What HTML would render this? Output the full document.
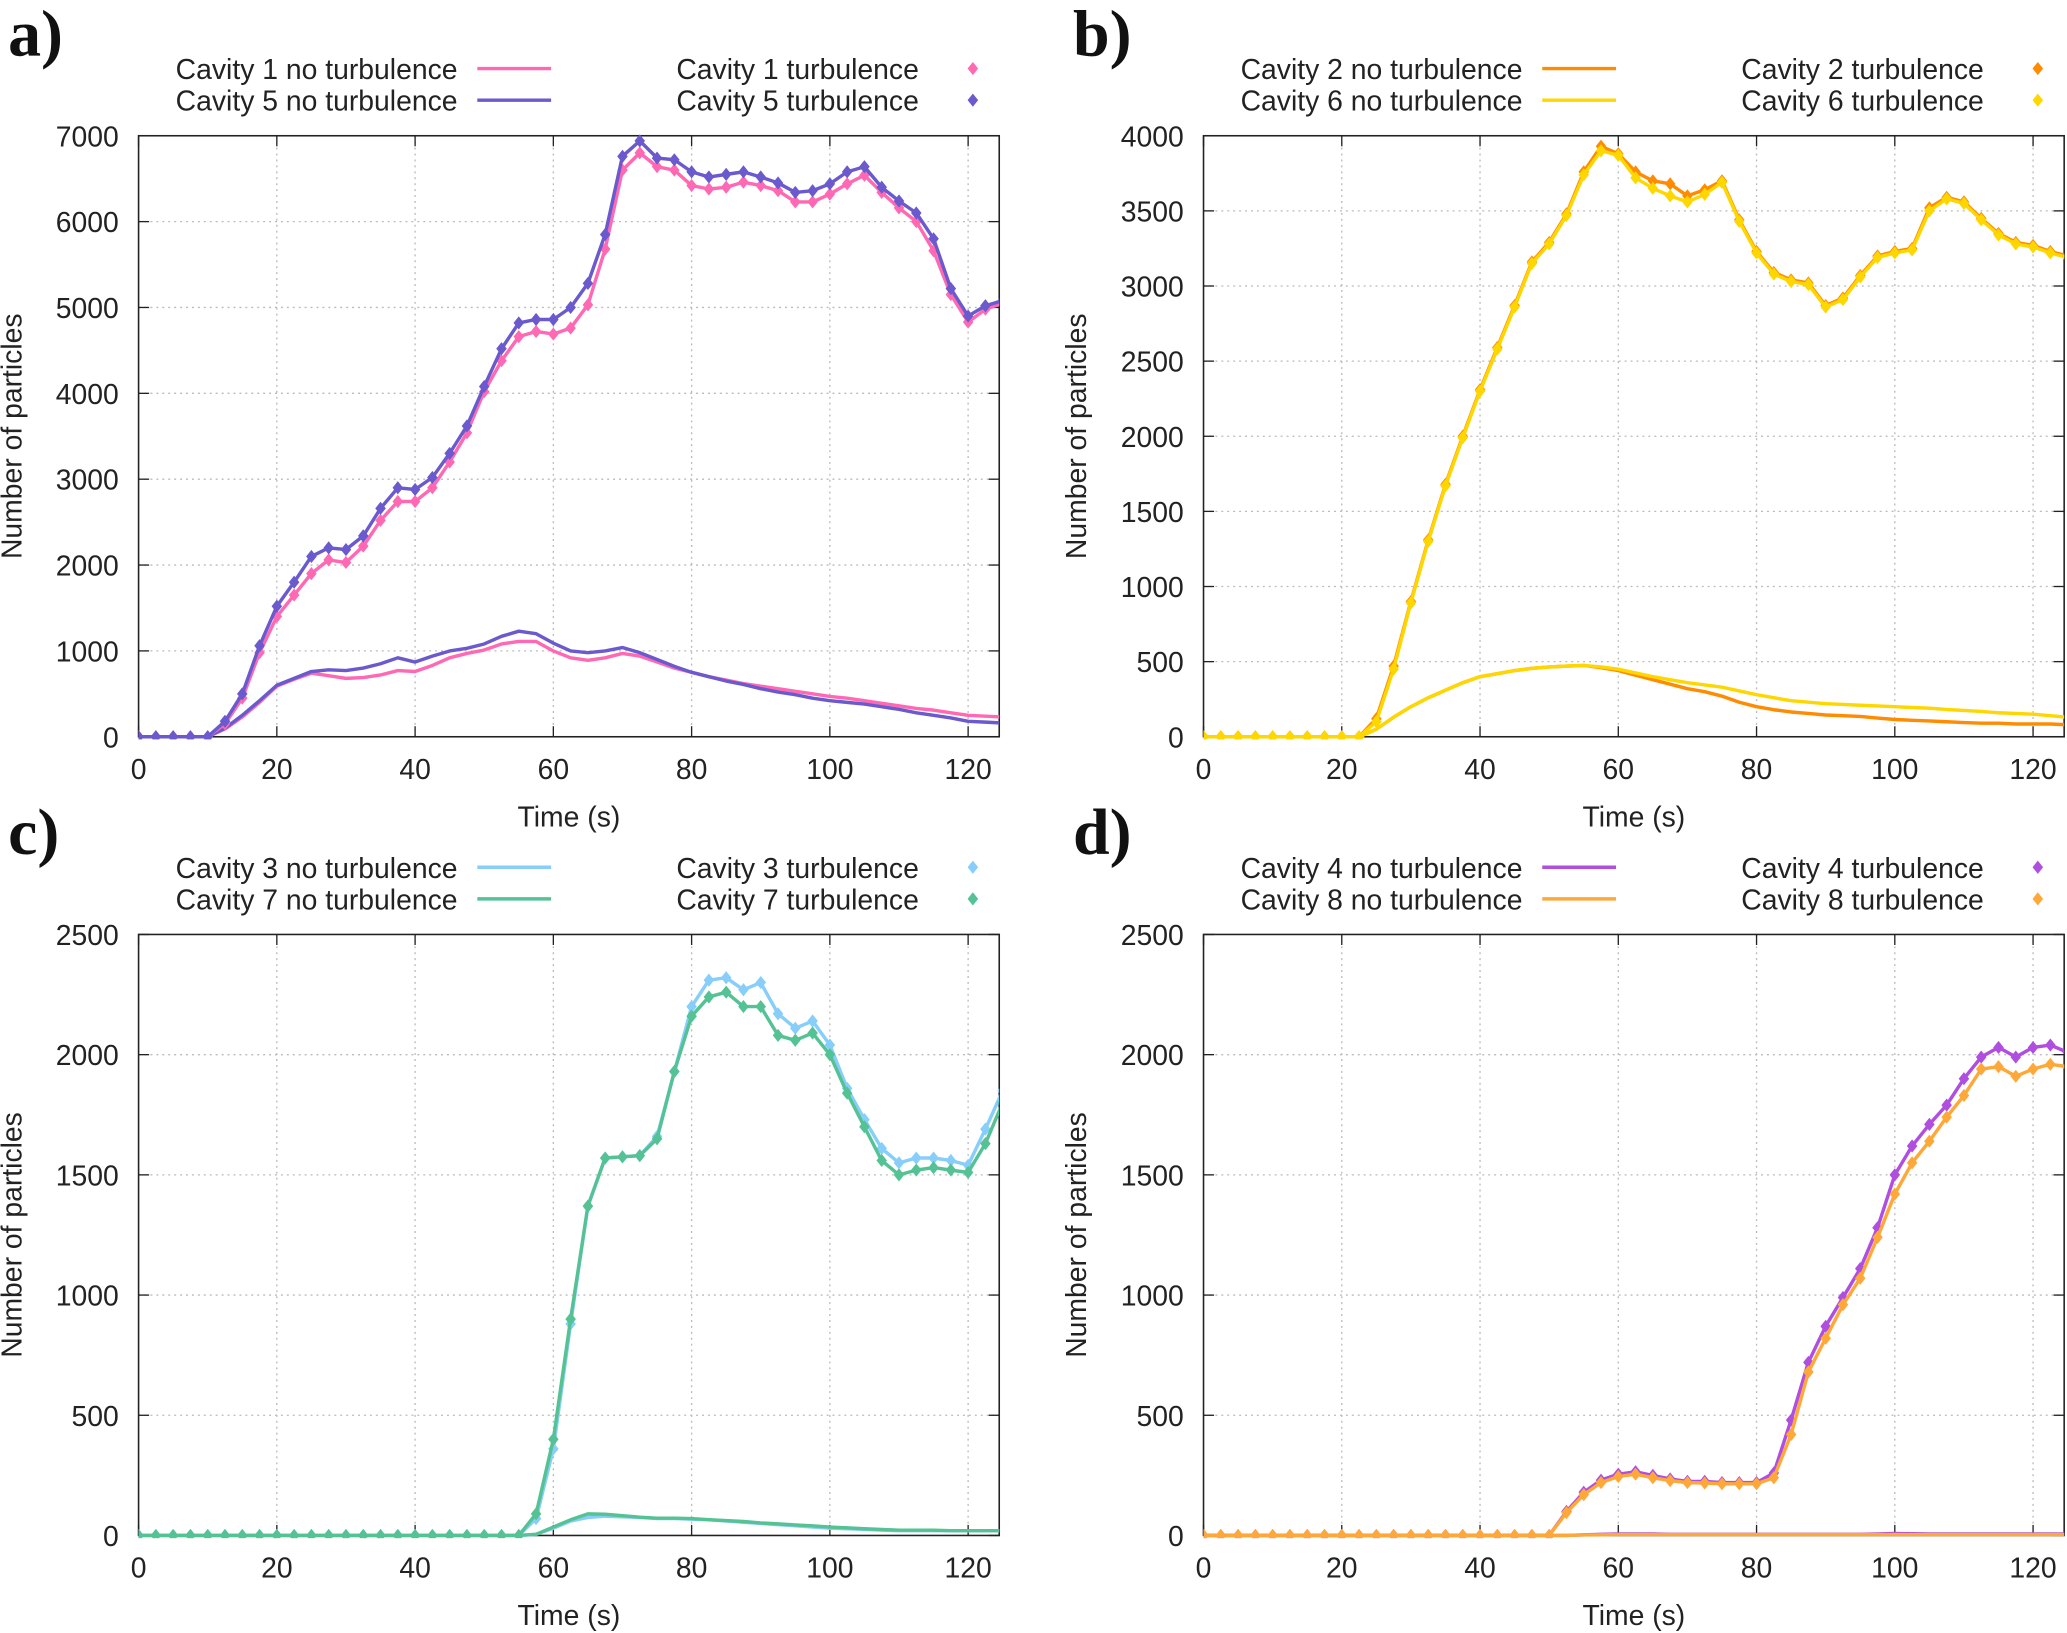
<!DOCTYPE html>
<html><head><meta charset="utf-8"><style>
html,body{margin:0;padding:0;background:#fff}
svg{display:block}
text{font-family:"Liberation Sans",sans-serif;fill:#222}
text.plab{font-family:"Liberation Serif",serif;font-weight:bold;fill:#111}
</style></head><body>
<svg id="fig" width="2067" height="1633" viewBox="0 0 1568 1239" xmlns="http://www.w3.org/2000/svg"></svg>
<script>
const times=[];for(let i=0;i<=50;i++)times.push(i*2.5);
// Panel a
const a_c1_turb=[0,0,0,0,0,150,450,980,1400,1650,1900,2060,2030,2220,2520,2740,2740,2900,3200,3540,4020,4380,4660,4720,4690,4760,5030,5680,6600,6800,6640,6600,6420,6380,6400,6460,6420,6360,6230,6230,6320,6440,6540,6340,6160,6000,5660,5150,4830,4980,5050];
const a_c5_turb=[0,0,0,0,0,180,500,1060,1520,1800,2100,2200,2180,2340,2660,2900,2880,3020,3300,3620,4080,4520,4820,4860,4860,5000,5280,5850,6760,6940,6740,6720,6580,6520,6550,6580,6520,6450,6340,6360,6440,6580,6640,6400,6240,6100,5800,5220,4900,5020,5080];
const a_c1_none=[0,0,0,0,0,90,230,400,590,670,740,710,680,690,720,770,760,830,920,970,1010,1080,1110,1110,1000,920,890,920,970,940,870,800,750,700,660,620,590,560,530,500,470,450,420,390,360,330,310,280,250,240,230];
const a_c5_none=[0,0,0,0,0,100,250,420,600,680,760,780,770,800,850,920,870,940,1000,1030,1080,1170,1230,1200,1090,1000,980,1000,1040,980,900,820,750,700,650,610,560,520,490,450,420,400,380,350,320,280,250,220,180,170,160];
// Panel b
const b_c2_turb=[0,0,0,0,0,0,0,0,0,0,120,470,900,1310,1680,2000,2310,2590,2870,3160,3290,3480,3760,3930,3880,3760,3700,3680,3600,3640,3700,3440,3230,3090,3040,3020,2870,2920,3070,3200,3230,3250,3520,3590,3560,3450,3350,3290,3270,3230,3200];
const b_c6_turb=[0,0,0,0,0,0,0,0,0,0,100,450,890,1300,1670,1990,2300,2580,2860,3150,3280,3470,3740,3900,3870,3720,3650,3600,3560,3610,3690,3430,3220,3080,3030,3010,2860,2910,3060,3190,3220,3240,3500,3580,3550,3440,3340,3280,3260,3220,3190];
const b_c2_none=[0,0,0,0,0,0,0,0,0,0,50,130,200,260,310,360,400,420,440,455,465,470,475,460,440,410,380,350,320,300,270,230,200,180,165,155,145,140,135,125,115,110,105,100,95,90,90,85,85,85,80];
const b_c6_none=[0,0,0,0,0,0,0,0,0,0,50,130,200,260,310,360,400,420,440,455,465,470,475,465,450,425,400,380,360,345,330,305,280,260,240,230,220,215,210,205,200,195,190,182,175,168,160,155,150,140,130];
// Panel c
const c_c3_turb=[0,0,0,0,0,0,0,0,0,0,0,0,0,0,0,0,0,0,0,0,0,0,0,70,360,880,1370,1570,1575,1580,1660,1930,2200,2310,2320,2270,2300,2170,2110,2140,2040,1860,1730,1610,1550,1570,1570,1560,1540,1690,1850];
const c_c7_turb=[0,0,0,0,0,0,0,0,0,0,0,0,0,0,0,0,0,0,0,0,0,0,0,90,400,900,1370,1570,1575,1580,1650,1930,2160,2240,2260,2200,2200,2080,2060,2090,2000,1840,1700,1560,1500,1520,1530,1520,1510,1630,1800];
const c_c3_none=[0,0,0,0,0,0,0,0,0,0,0,0,0,0,0,0,0,0,0,0,0,0,0,5,30,60,75,80,78,75,70,70,68,65,60,55,50,45,40,35,30,28,25,22,20,20,20,20,20,20,20];
const c_c7_none=[0,0,0,0,0,0,0,0,0,0,0,0,0,0,0,0,0,0,0,0,0,0,0,5,35,65,90,88,82,76,72,72,70,66,62,58,52,48,44,40,35,32,28,25,22,22,22,20,20,20,20];
// Panel d
const d_c4_turb=[0,0,0,0,0,0,0,0,0,0,0,0,0,0,0,0,0,0,0,0,0,100,180,230,255,265,250,235,225,225,220,220,220,260,480,720,870,990,1110,1280,1500,1620,1710,1790,1900,1990,2030,1990,2030,2040,2010];
const d_c8_turb=[0,0,0,0,0,0,0,0,0,0,0,0,0,0,0,0,0,0,0,0,0,95,170,220,245,255,240,228,220,218,215,215,215,240,420,680,820,960,1070,1240,1420,1550,1640,1740,1830,1940,1950,1910,1940,1960,1950];
const d_c4_none=[0,0,0,0,0,0,0,0,0,0,0,0,0,0,0,0,0,0,0,0,0,0,3,5,6,6,6,5,5,5,5,5,5,5,5,5,5,5,5,6,8,7,6,6,6,6,6,6,6,6,6];
const d_c8_none=[0,0,0,0,0,0,0,0,0,0,0,0,0,0,0,0,0,0,0,0,0,0,2,3,4,4,4,4,4,4,4,4,4,4,4,4,4,4,4,4,4,4,4,4,4,4,4,4,4,4,4];
const xTicks=[0,20,40,60,80,100,120];
const yTicksA=[0,1000,2000,3000,4000,5000,6000,7000];
const yTicksB=[0,500,1000,1500,2000,2500,3000,3500,4000];
const yTicksC=[0,500,1000,1500,2000,2500];

const NS="http://www.w3.org/2000/svg";
const svg=document.getElementById('fig');
function mk(tag,attrs,parent){const e=document.createElementNS(NS,tag);for(const k in attrs)e.setAttribute(k,attrs[k]);(parent||svg).appendChild(e);return e;}

const panels=[
 {id:'a',dx:0,dy:0,ymax:7000,yt:yTicksA,names:['Cavity 1','Cavity 5'],cols:['#ff69b4','#6a5acd'],turb:[a_c1_turb,a_c5_turb],none:[a_c1_none,a_c5_none]},
 {id:'b',dx:808,dy:0,ymax:4000,yt:yTicksB,names:['Cavity 2','Cavity 6'],cols:['#ff8c00','#ffd700'],turb:[b_c2_turb,b_c6_turb],none:[b_c2_none,b_c6_none]},
 {id:'c',dx:0,dy:606,ymax:2500,yt:yTicksC,names:['Cavity 3','Cavity 7'],cols:['#87cefa','#55c295'],turb:[c_c3_turb,c_c7_turb],none:[c_c3_none,c_c7_none]},
 {id:'d',dx:808,dy:606,ymax:2500,yt:yTicksC,names:['Cavity 4','Cavity 8'],cols:['#b04ee0','#ffa83a'],turb:[d_c4_turb,d_c8_turb],none:[d_c4_none,d_c8_none]}
];
const XMAX=124.5;
const FS=21.5;
panels.forEach(p=>{
 const g=mk('g',{});
 
 
 const L=105+p.dx,R=758+p.dx,T=103+p.dy,B=559+p.dy;
 const sx=t=>L+(R-L)*t/XMAX, sy=v=>B-(B-T)*v/p.ymax;
 const lbl=mk('text',{x:6+p.dx,y:42+p.dy,'font-size':50,'class':'plab'},g);lbl.textContent=p.id+')';
 
 xTicks.forEach(t=>{const x=sx(t);
  if(t>0)mk('line',{x1:x,y1:T,x2:x,y2:B,stroke:'#bbb','stroke-width':1,'stroke-dasharray':'1.5,3'},g);
  mk('line',{x1:x,y1:B,x2:x,y2:B-8,stroke:'#222','stroke-width':1},g);
  mk('line',{x1:x,y1:T,x2:x,y2:T+8,stroke:'#222','stroke-width':1},g);
  const tx=mk('text',{x:x,y:B+32,'font-size':FS,'text-anchor':'middle'},g);tx.textContent=t;
  
 });
 p.yt.forEach(v=>{const y=sy(v);
  if(v>0&&v<p.ymax)mk('line',{x1:L,y1:y,x2:R,y2:y,stroke:'#bbb','stroke-width':1,'stroke-dasharray':'1.5,3'},g);
  mk('line',{x1:L,y1:y,x2:L+8,y2:y,stroke:'#222','stroke-width':1},g);
  mk('line',{x1:R,y1:y,x2:R-8,y2:y,stroke:'#222','stroke-width':1},g);
  const ty=mk('text',{x:L-15,y:y+8,'font-size':FS,'text-anchor':'end'},g);ty.textContent=v;
  
 });
 const fr=mk('rect',{x:L,y:T,width:R-L,height:B-T,fill:'none',stroke:'#222','stroke-width':1.2},g);
 
 const xt=mk('text',{x:(L+R)/2,y:B+68,'font-size':FS,'text-anchor':'middle'},g);xt.textContent='Time (s)';
 
 const yx=16+p.dx,yy=(T+B)/2;
 const yl=mk('text',{x:yx,y:yy,'font-size':FS,'text-anchor':'middle',transform:`rotate(-90 ${yx} ${yy})`},g);yl.textContent='Number of particles';
 
 const clip=mk('clipPath',{id:'clip'+p.id},g);mk('rect',{x:L,y:T-10,width:R-L,height:B-T+12},clip);
 const pg=mk('g',{'clip-path':`url(#clip${p.id})`},g);
 const path=arr=>arr.map((v,i)=>(i?'L':'M')+sx(times[i]).toFixed(1)+','+sy(v).toFixed(1)).join('');
 [0,1].forEach(k=>{
  const ln=mk('path',{d:path(p.none[k]),fill:'none',stroke:p.cols[k],'stroke-width':2.6,'stroke-linejoin':'round'},pg);
  
 });
 [0,1].forEach(k=>{
  const ln=mk('path',{d:path(p.turb[k]),fill:'none',stroke:p.cols[k],'stroke-width':2.6,'stroke-linejoin':'round'},pg);
  
  p.turb[k].forEach((v,i)=>{const x=sx(times[i]),y=sy(v);
   const m=mk('path',{d:`M${x},${y-5}L${x+4},${y}L${x},${y+5}L${x-4},${y}Z`,fill:p.cols[k]},pg);
   
  });
 });
 [0,1].forEach(k=>{const y=52+24*k+p.dy;
  const t1=mk('text',{x:347+p.dx,y:y+8,'font-size':FS,'text-anchor':'end'},g);t1.textContent=p.names[k]+' no turbulence';
  
  mk('line',{x1:362+p.dx,y1:y,x2:418+p.dx,y2:y,stroke:p.cols[k],'stroke-width':2.6},g);
  const t2=mk('text',{x:697+p.dx,y:y+8,'font-size':FS,'text-anchor':'end'},g);t2.textContent=p.names[k]+' turbulence';
  
  const x=738+p.dx;mk('path',{d:`M${x},${y-5}L${x+4},${y}L${x},${y+5}L${x-4},${y}Z`,fill:p.cols[k]},g);
 });
});
</script>
</body></html>
